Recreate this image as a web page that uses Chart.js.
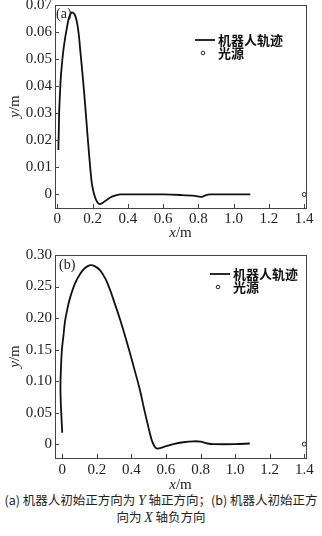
<!DOCTYPE html>
<html>
<head>
<meta charset="utf-8">
<script src="https://cdn.jsdelivr.net/npm/chart.js@4.4.1/dist/chart.umd.min.js"></script>
<style>
body{margin:0;background:#fff;width:322px;height:536px;position:relative;overflow:hidden}
canvas{position:absolute;left:0}
#ca{top:-10px}
#cb{top:240px}
.cap{position:absolute;left:0;width:322px;text-align:center;font:12.5px "Noto Sans CJK SC";color:#222;white-space:nowrap;line-height:16px}
.cap i{font-family:"Liberation Serif";font-size:14px}
</style>
</head>
<body>
<canvas id="ca" width="322" height="250"></canvas>
<canvas id="cb" width="322" height="250"></canvas>
<div class="cap" style="top:492px">(a) 机器人初始正方向为 <i>Y</i> 轴正方向；(b) 机器人初始正方</div>
<div class="cap" style="top:509px">向为 <i>X</i> 轴负方向</div>
<script>
// series labels
const trackLabel = '机器人轨迹';
const lightLabel = '光源';

// (a) robot track, start heading +Y
const trackAX = [0.006, 0.009, 0.011, 0.015, 0.022, 0.034, 0.045, 0.053, 0.065, 0.080, 0.092, 0.102, 0.112, 0.122, 0.132, 0.145, 0.158, 0.170, 0.180, 0.188, 0.196, 0.205, 0.214, 0.228, 0.242, 0.260, 0.280, 0.310, 0.337, 0.360, 0.500, 0.600, 0.700, 0.780, 0.820, 0.840, 0.870, 1.000, 1.094];
const trackAY = [0.0164, 0.025, 0.031, 0.037, 0.045, 0.053, 0.058, 0.061, 0.065, 0.0672, 0.0670, 0.0660, 0.0635, 0.059, 0.052, 0.043, 0.033, 0.023, 0.015, 0.009, 0.004, 0.001, -0.001, -0.003, -0.0036, -0.003, -0.002, -0.0008, -0.0002, 0, 0, 0, -0.0002, -0.0005, -0.0009, -0.0003, 0, 0, 0];

// (b) robot track, start heading -X
const trackBX = [0.000, -0.006, -0.010, -0.010, -0.006, -0.002, 0.008, 0.016, 0.030, 0.045, 0.074, 0.103, 0.130, 0.162, 0.190, 0.218, 0.250, 0.276, 0.305, 0.334, 0.363, 0.392, 0.421, 0.450, 0.475, 0.500, 0.518, 0.535, 0.550, 0.580, 0.643, 0.700, 0.760, 0.800, 0.840, 0.875, 1.000, 1.085];
const trackBY = [0.018, 0.050, 0.080, 0.100, 0.130, 0.150, 0.175, 0.195, 0.215, 0.232, 0.255, 0.270, 0.279, 0.284, 0.282, 0.276, 0.262, 0.245, 0.222, 0.198, 0.172, 0.144, 0.115, 0.085, 0.054, 0.025, 0.006, -0.004, -0.007, -0.005, 0.000, 0.003, 0.0045, 0.004, 0.001, 0, 0, 0.001];

// light source
const lightX = [1.4];
const lightY = [0];

// ticks
const xTicks = [0, 0.2, 0.4, 0.6, 0.8, 1.0, 1.2, 1.4];
const yTicksA = [0, 0.01, 0.02, 0.03, 0.04, 0.05, 0.06, 0.07];
const yTicksB = [0, 0.05, 0.10, 0.15, 0.20, 0.25, 0.30];

const serif = '"Liberation Serif", "DejaVu Serif", serif';
const cjk = '"Noto Sans CJK SC", sans-serif';

function pts(xs, ys) {
  return xs.map((x, i) => ({x: x, y: ys[i]}));
}

// draws "y/m" style unit with italic symbol
function unitText(ctx, sym, rest, cx, cy) {
  ctx.font = 'italic 15px ' + serif;
  const w1 = ctx.measureText(sym).width;
  ctx.font = '15px ' + serif;
  const w2 = ctx.measureText(rest).width;
  let x0 = cx - (w1 + w2) / 2;
  ctx.textBaseline = 'middle';
  ctx.textAlign = 'left';
  ctx.font = 'italic 15px ' + serif;
  ctx.fillText(sym, x0, cy);
  ctx.font = '15px ' + serif;
  ctx.fillText(rest, x0 + w1, cy);
}

function decor(cfg) {
  return {
    id: 'decor',
    afterDraw(chart) {
      const ctx = chart.ctx;
      const a = chart.chartArea;
      const xs = chart.scales.x, ys = chart.scales.y;
      ctx.save();
      ctx.strokeStyle = '#444';
      ctx.lineWidth = 1;
      ctx.strokeRect(Math.round(a.left) + 0.5, Math.round(a.top) + 0.5, Math.round(a.right - a.left), Math.round(a.bottom - a.top));
      // inward ticks
      ctx.beginPath();
      xs.ticks.forEach(t => {
        const px = Math.round(xs.getPixelForValue(t.value)) + 0.5;
        ctx.moveTo(px, a.bottom);
        ctx.lineTo(px, a.bottom - 4);
      });
      ys.ticks.forEach(t => {
        const py = Math.round(ys.getPixelForValue(t.value)) + 0.5;
        ctx.moveTo(a.left, py);
        ctx.lineTo(a.left + 4, py);
      });
      ctx.stroke();

      ctx.fillStyle = '#222';
      // axis titles
      unitText(ctx, 'x', '/m', (a.left + a.right) / 2, cfg.xTitleY);
      ctx.save();
      ctx.translate(15, (a.top + a.bottom) / 2);
      ctx.rotate(-Math.PI / 2);
      unitText(ctx, 'y', '/m', 0, 0);
      ctx.restore();

      // panel tag
      ctx.font = '14px ' + serif;
      ctx.textAlign = 'left';
      ctx.textBaseline = 'middle';
      ctx.fillText(cfg.tag, a.left + 1 + cfg.tagDx, a.top + 9 + cfg.tagDy);

      // legend
      const ds = chart.data.datasets;
      const lg = cfg.legend;
      ctx.strokeStyle = '#111';
      ctx.lineWidth = 1.8;
      ctx.beginPath();
      ctx.moveTo(lg.x, lg.y);
      ctx.lineTo(lg.x + 20, lg.y);
      ctx.stroke();
      ctx.lineWidth = 1;
      ctx.strokeStyle = '#222';
      ctx.beginPath();
      ctx.arc(lg.x + 8, lg.y + 13, 1.8, 0, Math.PI * 2);
      ctx.stroke();
      ctx.fillStyle = '#111';
      ctx.font = 'bold 13px ' + cjk;
      ctx.fillText(ds[0].label, lg.x + 23, lg.y);
      ctx.fillText(ds[1].label, lg.x + 23, lg.y + 13);
      ctx.restore();
    }
  };
}

function makeChart(id, tx, ty, yTicks, xMin, yMin, yMax, yDigits, axisH, tickPad, cfg) {
  return new Chart(document.getElementById(id), {
    type: 'scatter',
    data: {
      datasets: [{
        label: trackLabel,
        data: pts(tx, ty),
        showLine: true,
        borderColor: '#111',
        borderWidth: 1.8,
        pointRadius: 0,
        tension: 0.35
      }, {
        label: lightLabel,
        data: pts(lightX, lightY),
        showLine: false,
        pointRadius: 2,
        borderWidth: 1,
        borderColor: '#222',
        backgroundColor: '#fff'
      }]
    },
    options: {
      responsive: false,
      animation: false,
      layout: {padding: {left: 0, right: 16, top: 15, bottom: 0}},
      plugins: {legend: {display: false}, tooltip: {enabled: false}},
      scales: {
        x: {
          type: 'linear',
          min: xMin,
          max: 1.41,
          grid: {display: false, drawTicks: false},
          border: {display: false},
          afterBuildTicks: s => { s.ticks = xTicks.map(v => ({value: v})); },
          afterFit: s => { s.height = axisH; },
          ticks: {
            padding: tickPad,
            color: '#222',
            font: {family: serif, size: 15},
            maxRotation: 0,
            callback: v => v === 0 ? '0' : v.toFixed(1)
          }
        },
        y: {
          min: yMin,
          max: yMax,
          grid: {display: false, drawTicks: false},
          border: {display: false},
          afterBuildTicks: s => { s.ticks = yTicks.map(v => ({value: v})); },
          afterFit: s => { s.width = 55; },
          ticks: {
            padding: 3,
            color: '#222',
            font: {family: serif, size: 15},
            callback: v => v === 0 ? '0' : v.toFixed(yDigits)
          }
        }
      }
    },
    plugins: [decor(cfg)]
  });
}

makeChart('ca', trackAX, trackAY, yTicksA, -0.013, -0.005, 0.07, 2, 32, 2,
  {tag: '(a)', tagDx: 0, tagDy: 0, xTitleY: 243, legend: {x: 195, y: 50}});
makeChart('cb', trackBX, trackBY, yTicksB, -0.042, -0.022, 0.30, 2, 32, 3,
  {tag: '(b)', tagDx: 3, tagDy: 1, xTitleY: 245, legend: {x: 210, y: 34}});
</script>
</body>
</html>
